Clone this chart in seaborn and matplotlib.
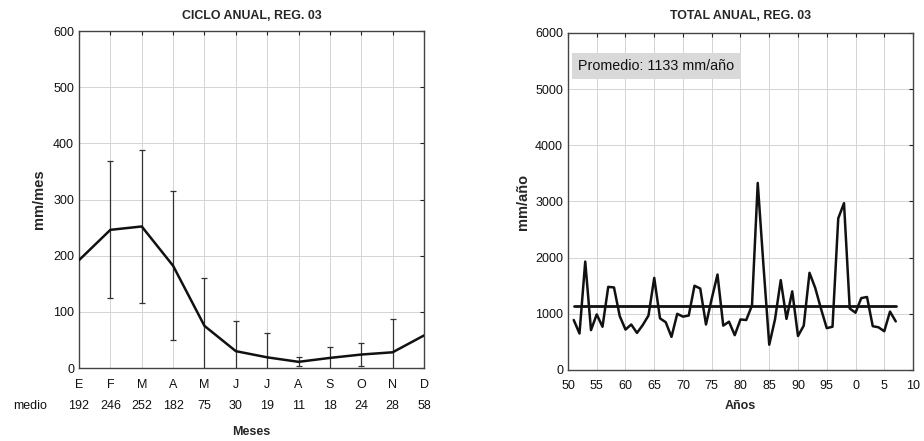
import numpy as np
import pandas as pd
import matplotlib
matplotlib.use("Agg")
import matplotlib.pyplot as plt
import matplotlib.transforms as mtransforms
import seaborn as sns

# ---- data ----
months = ["E", "F", "M", "A", "M", "J", "J", "A", "S", "O", "N", "D"]
month_mean = [192, 246, 252, 182, 75, 30, 19, 11, 18, 24, 28, 58]
month_std = [np.nan, 122, 136, 133, 86, 54, 44, 8, 19, 20, 59, np.nan]

years = list(range(1951, 2008))
annual_total = [890, 650, 1930, 710, 990, 770, 1480, 1470, 960, 720,
                810, 660, 800, 970, 1640, 920, 850, 590, 1000, 950,
                970, 1500, 1450, 810, 1270, 1700, 790, 860, 620, 900,
                890, 1150, 3330, 1850, 450, 900, 1600, 910, 1400, 605,
                790, 1730, 1460, 1090, 745, 770, 2700, 2970, 1095, 1020,
                1280, 1300, 780, 760, 690, 1040, 865]
annual_mean = 1133
year_ticks = [1950, 1955, 1960, 1965, 1970, 1975, 1980, 1985, 1990, 1995, 2000, 2005, 2010]
year_tick_labels = ["50", "55", "60", "65", "70", "75", "80", "85", "90", "95", "0", "5", "10"]

sns.set_style("white")
plt.rcParams["font.family"] = ["Liberation Sans", "DejaVu Sans"]

fig = plt.figure(figsize=(9.24, 4.41), dpi=100)
ax1 = fig.add_axes([0.0855, 0.1655, 0.3734, 0.7642])
ax2 = fig.add_axes([0.6147, 0.161, 0.3734, 0.7642])

grid_kw = dict(color="#d4d4d4", linewidth=0.7)
tick_kw = dict(direction="in", top=True, right=True, length=3, width=0.8,
               colors="#222222", labelcolor="#111111", labelsize=9)

# ---- left: annual cycle ----
mpos = np.arange(1, 13)
df_m = pd.DataFrame({"pos": mpos, "mean": month_mean, "std": month_std})
ax1.errorbar(df_m["pos"], df_m["mean"], yerr=df_m["std"], fmt="none",
             ecolor="#333333", elinewidth=0.9, capsize=2.5, capthick=0.9, zorder=2)
sns.lineplot(data=df_m, x="pos", y="mean", ax=ax1, color="#111111",
             linewidth=1.8, zorder=3)
ax1.set_xlim(1, 12)
ax1.set_ylim(0, 600)
ax1.set_xticks(mpos)
ax1.set_xticklabels(months)
ax1.set_yticks(range(0, 601, 100))
ax1.grid(True, **grid_kw)
ax1.tick_params(axis="both", **tick_kw)
ax1.tick_params(axis="x", pad=8)
ax1.set_xlabel("Meses", fontsize=9, fontweight="bold", labelpad=25)
ax1.set_ylabel("mm/mes", fontsize=10.5, fontweight="bold", labelpad=5)
ax1.set_title("CICLO ANUAL, REG. 03", fontsize=8.9, fontweight="bold", pad=9)
trans = mtransforms.blended_transform_factory(ax1.transData, fig.transFigure)
for p, v in zip(mpos, month_mean):
    ax1.text(p, 1 - 406 / 441, str(v), transform=trans, ha="center", va="center",
             fontsize=9, color="#111111")
ax1.text(47 / 924, 1 - 406 / 441, "medio", transform=fig.transFigure,
         ha="right", va="center", fontsize=9, color="#111111")

# ---- right: annual totals ----
df_y = pd.DataFrame({"year": years, "total": annual_total})
sns.lineplot(data=df_y, x="year", y="total", ax=ax2, color="#111111",
             linewidth=1.8, zorder=3)
df_mean = pd.DataFrame({"year": [years[0], years[-1]], "total": [annual_mean, annual_mean]})
sns.lineplot(data=df_mean, x="year", y="total", ax=ax2, color="#111111",
             linewidth=2.0, zorder=3)
ax2.set_xlim(1950, 2010)
ax2.set_ylim(0, 6000)
ax2.set_xticks(year_ticks)
ax2.set_xticklabels(year_tick_labels)
ax2.set_yticks(range(0, 6001, 1000))
ax2.grid(True, **grid_kw)
ax2.tick_params(axis="both", **tick_kw)
ax2.tick_params(axis="x", pad=7)
ax2.set_xlabel("Años", fontsize=9, fontweight="bold", labelpad=6)
ax2.set_ylabel("mm/año", fontsize=10.5, fontweight="bold", labelpad=4)
ax2.set_title("TOTAL ANUAL, REG. 03", fontsize=8.9, fontweight="bold", pad=10)
ax2.text(0.03, 0.902, f"Promedio: {annual_mean} mm/año", transform=ax2.transAxes,
         ha="left", va="center", fontsize=10.3, color="#111111",
         bbox=dict(boxstyle="square,pad=0.45", facecolor="#d9d9d9", edgecolor="none"))

for ax in (ax1, ax2):
    for s in ax.spines.values():
        s.set_color("#444444")
        s.set_linewidth(1.0)
        s.set_visible(True)

fig.savefig("out.png", dpi=100)
